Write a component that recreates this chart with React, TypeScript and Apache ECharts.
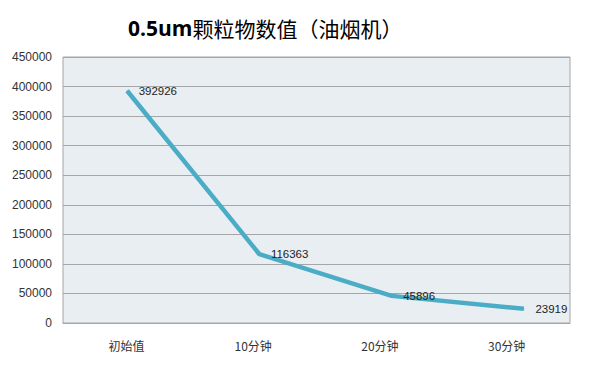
import React, { useEffect, useRef } from "react";
import * as echarts from "echarts";

const categories = ["初始值", "10分钟", "20分钟", "30分钟"];
const values = [392926, 116363, 45896, 23919];
const titleLatin = "0.5um";
const titleCJK = "颗粒物数值（油烟机）";

export default function App() {
  const ref = useRef<HTMLDivElement>(null);
  useEffect(() => {
    if (!ref.current) return;
    const chart = echarts.init(ref.current, null, { renderer: "svg" });
    chart.setOption({
      animation: false,
      backgroundColor: "#ffffff",
      title: {
        text: "{a|" + titleLatin + "}{b|" + titleCJK + "}",
        left: 123,
        top: 12,
        textStyle: {
          rich: {
            a: {
              fontFamily: "'Open Sans', 'Noto Sans', sans-serif",
              fontSize: 21,
              fontWeight: "bold",
              color: "#000000",
            },
            b: {
              fontFamily: "'Noto Sans CJK SC', sans-serif",
              fontSize: 21,
              fontWeight: "normal",
              color: "#000000",
            },
          },
        },
      },
      grid: [
        {
          left: 63,
          right: 30,
          top: 57,
          bottom: 42,
          show: true,
          backgroundColor: "#e9eef2",
          borderColor: "#a6a6a6",
          borderWidth: 1,
          containLabel: false,
        },
        {
          left: 61,
          right: 10,
          top: 57,
          bottom: 42,
          show: false,
          containLabel: false,
        },
      ],
      xAxis: [
        {
          type: "category",
          gridIndex: 0,
          data: categories,
          boundaryGap: true,
          axisLine: { show: true, lineStyle: { color: "#a6a6a6" } },
          axisTick: { show: false },
          axisLabel: {
            margin: 16,
            fontSize: 12,
            color: "#333333",
            fontFamily: "'Noto Sans CJK SC', 'Liberation Sans', sans-serif",
          },
        },
        {
          type: "category",
          gridIndex: 1,
          data: categories,
          boundaryGap: true,
          show: false,
        },
      ],
      yAxis: [
        {
          type: "value",
          gridIndex: 0,
          min: 0,
          max: 450000,
          interval: 50000,
          axisLine: { show: false },
          axisTick: { show: false },
          axisLabel: {
            margin: 11,
            fontSize: 12,
            color: "#333333",
            fontFamily: "'Liberation Sans', sans-serif",
            formatter: (v: number) => String(v),
          },
          splitLine: { lineStyle: { color: "#a6a6a6", width: 1 } },
        },
        {
          type: "value",
          gridIndex: 1,
          min: 0,
          max: 450000,
          interval: 50000,
          show: false,
          splitLine: { show: false },
        },
      ],
      series: [
        {
          type: "line",
          xAxisIndex: 1,
          yAxisIndex: 1,
          data: values,
          symbol: "circle",
          symbolSize: 1,
          showSymbol: true,
          lineStyle: { color: "#4bacc6", width: 4.5 },
          itemStyle: { color: "#4bacc6" },
          label: {
            show: true,
            position: "right",
            distance: 11,
            fontSize: 11.5,
            color: "#222222",
            fontFamily: "'Liberation Sans', sans-serif",
            formatter: (p: any) => String(p.value),
          },
        },
      ],
    });
    return () => chart.dispose();
  }, []);
  return <div ref={ref} style={{ width: 600, height: 365, position: "absolute", left: 0, top: 0 }} />;
}
